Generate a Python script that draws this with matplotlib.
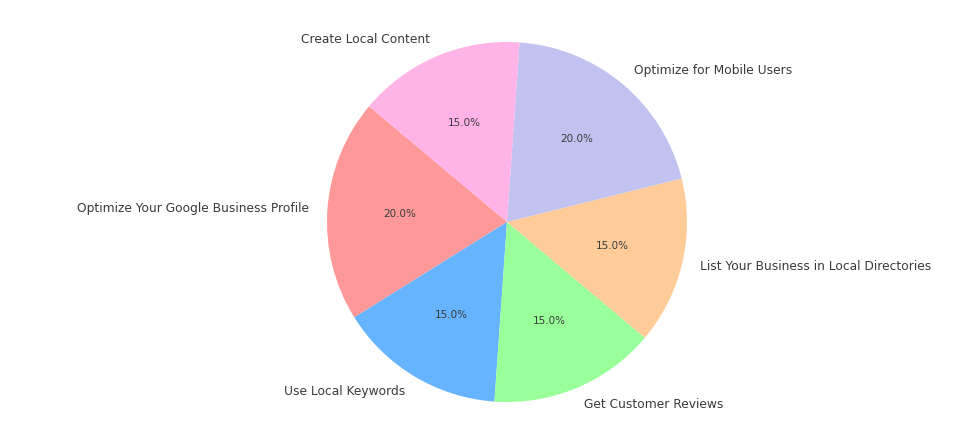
import matplotlib
matplotlib.use('Agg')
import matplotlib.pyplot as plt

labels = ['Optimize Your Google Business Profile', 'Use Local Keywords',
          'Get Customer Reviews', 'List Your Business in Local Directories',
          'Optimize for Mobile Users', 'Create Local Content']
sizes = [20, 15, 15, 15, 20, 15]
colors = ['#ff9999', '#66b3ff', '#99ff99', '#ffcc99', '#c2c2f0', '#ffb3e6']

fig = plt.figure(figsize=(9.79, 4.29), dpi=100)
ax = fig.add_axes([327 / 979, 27 / 429, 360 / 979, 360 / 429])

wedges, texts, autotexts = ax.pie(sizes, labels=labels, colors=colors,
                                  autopct='%1.1f%%', startangle=140,
                                  textprops={'color': '#3a3a3a'})
for t in texts:
    t.set_fontsize(8.8)
for t in autotexts:
    t.set_fontsize(7.5)

ax.set_xlim(-1, 1)
ax.set_ylim(-1, 1)
ax.set_aspect('equal')

fig.savefig('out.png', dpi=100)
